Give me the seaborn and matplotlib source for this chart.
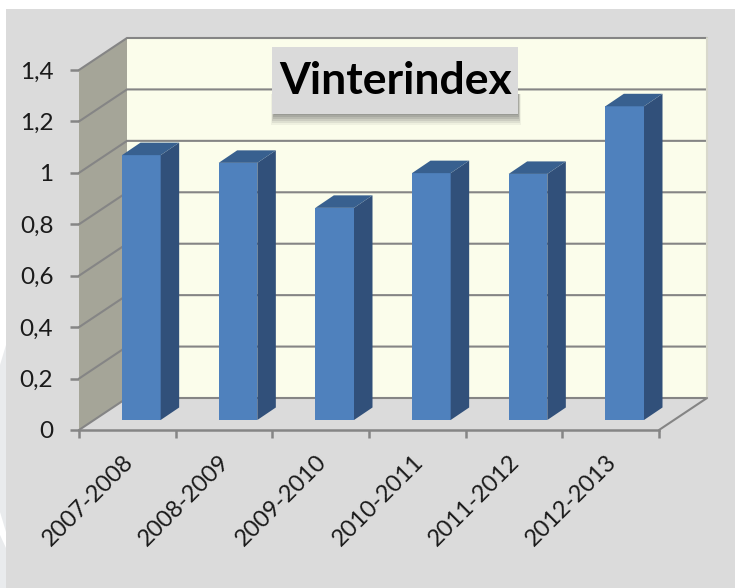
import matplotlib
matplotlib.use("Agg")
import matplotlib.pyplot as plt
from matplotlib.patches import Polygon, Rectangle
from matplotlib.transforms import ScaledTranslation
import seaborn as sns

seasons = ["2007-2008", "2008-2009", "2009-2010", "2010-2011", "2011-2012", "2012-2013"]
index_values = [1.03, 1.0, 0.825, 0.96, 0.957, 1.22]
y_levels = [0, 0.2, 0.4, 0.6, 0.8, 1.0, 1.2, 1.4]
y_labels = ["0", "0,2", "0,4", "0,6", "0,8", "1", "1,2", "1,4"]
title_text = "Vinterindex"

W, H = 735, 588
BG = "#DBDBDB"
GRID = "#858585"
sns.set_theme(style="white")
plt.rcParams["font.family"] = ["Lato", "DejaVu Sans"]

fig = plt.figure(figsize=(W / 100, H / 100), dpi=100, facecolor="white")


def frac_rect(x0, y0, x1, y1):
    """pixel box (y down) -> figure fractions"""
    return [x0 / W, 1 - y1 / H, (x1 - x0) / W, (y1 - y0) / H]


def fig_poly(points, **kw):
    pts = [(x / W, 1 - y / H) for x, y in points]
    fig.patches.append(Polygon(pts, transform=fig.transFigure, ec="none", **kw))


fig_poly([(6, 9), (W, 9), (W, H), (6, H)], fc=BG, zorder=-5)
fig_poly([(0, 365), (6, 345), (6, H), (0, H)], fc="#E9EBED", zorder=-5)
fig_poly([(0, 512), (6, 532), (6, 548), (0, 535)], fc="white", zorder=-4)

# front plane axes
ax = fig.add_axes(frac_rect(79, 70, 659, 430))
ax.patch.set_alpha(0)
ax.set_xlim(-0.5, 5.5)
ax.set_ylim(0, 1.4)
per_cat = 580 / 6
per_unit = 360 / 1.4
dx, dy = 48 / per_cat, 32 / per_unit
xl, xr = -0.5, 5.5
top = y_levels[-1]

# walls
ax.add_patch(Polygon([(xl + dx, dy), (xr + dx, dy), (xr + dx, top + dy), (xl + dx, top + dy)],
                     fc="#FBFDEB", ec="none", clip_on=False, zorder=1))
ax.add_patch(Polygon([(xl, 0), (xl + dx, dy), (xl + dx, top + dy), (xl, top)],
                     fc="#A5A598", ec="none", clip_on=False, zorder=1))
for lv in y_levels:
    ax.plot([xl, xl + dx, xr + dx], [lv, lv + dy, lv + dy], color=GRID, lw=1.5,
            clip_on=False, zorder=2, solid_joinstyle="miter")
ax.plot([xr + dx, xr + dx], [dy, top + dy], color="#D8D8CC", lw=1.5, clip_on=False, zorder=2)
ax.plot([xr, xr + dx], [0, dy], color=GRID, lw=1.5, clip_on=False, zorder=2)

# axes cosmetics
for s in ["top", "right"]:
    ax.spines[s].set_visible(False)
for s in ["left", "bottom"]:
    ax.spines[s].set_color(GRID)
    ax.spines[s].set_linewidth(1.8)
    ax.spines[s].set_zorder(3)
ax.spines["left"].set_visible(False)
ax.set_yticks(y_levels)
ax.set_yticklabels(y_labels, fontsize=17.5, color="#1a1a1a")
ax.tick_params(axis="y", length=6.5, width=1.8, color=GRID, pad=12, left=True)
ax.set_xticks([xl + i for i in range(len(seasons) + 1)])
ax.set_xticklabels([""] * (len(seasons) + 1))
ax.tick_params(axis="x", which="major", length=5.5, width=1.8, color=GRID, bottom=True)
ax.set_xticks(range(len(seasons)), minor=True)
ax.set_xticklabels(seasons, minor=True, rotation=45, ha="right", va="top",
                   rotation_mode="anchor", fontsize=17, color="#1a1a1a")
ax.tick_params(axis="x", which="minor", length=0, pad=13)
shift = ScaledTranslation(-5 / 100, -3 / 100, fig.dpi_scale_trans)
for lab in ax.get_xticklabels(minor=True):
    lab.set_transform(lab.get_transform() + shift)

# bars on a plane part-way into the depth
ax2 = fig.add_axes(frac_rect(79 + 14, 70 - 10, 659 + 14, 430 - 10))
ax2.patch.set_alpha(0)
sns.barplot(x=seasons, y=index_values, ax=ax2, color="#4F81BD", saturation=1, width=0.4,
            linewidth=0, edgecolor="none", zorder=3)
ax2.set_xlim(-0.5, 5.5)
ax2.set_ylim(0, 1.4)
ax2.axis("off")
bx, by = 18.5 / per_cat, 12.5 / per_unit
for bar in ax2.patches[:]:
    x0, x1 = bar.get_x(), bar.get_x() + bar.get_width()
    h = bar.get_height()
    ax2.add_patch(Polygon([(x1, 0), (x1 + bx, by), (x1 + bx, h + by), (x1, h)],
                          fc="#31507A", ec="none", clip_on=False, zorder=3))
    ax2.add_patch(Polygon([(x0, h), (x1, h), (x1 + bx, h + by), (x0 + bx, h + by)],
                          fc="#38608F", ec="none", clip_on=False, zorder=3))

# title box with soft shadow below
for i, a in zip([11, 9, 7, 5, 3, 1], [0.08, 0.12, 0.15, 0.18, 0.2, 0.22]):
    fig.patches.append(Rectangle(((274 - i / 4) / W, 1 - (114 + i) / H), (244 + i / 2) / W, (20 + i) / H,
                                 transform=fig.transFigure, fc="#666666", alpha=a, ec="none", zorder=4))
fig.patches.append(Rectangle((272 / W, 1 - 114 / H), 246 / W, 67 / H, transform=fig.transFigure,
                             fc="#DADADA", ec="none", zorder=5))
fig.text(395.5 / W, 1 - 81 / H, title_text, ha="center", va="center", fontsize=32,
         fontweight="bold", color="black", zorder=6)

fig.savefig("out.png", dpi=100)
